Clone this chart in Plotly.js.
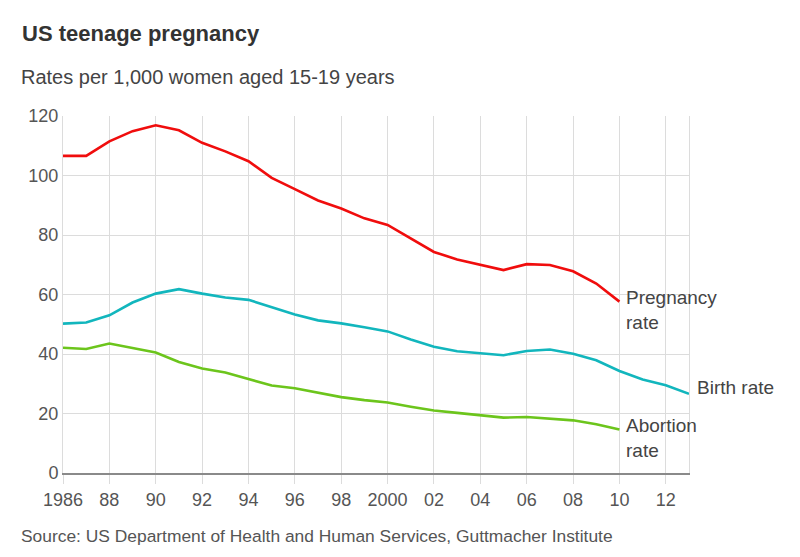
<!DOCTYPE html>
<html>
<head>
<meta charset="utf-8">
<script src="https://cdn.plot.ly/plotly-3.0.1.min.js"></script>
<style>
  html, body { margin: 0; padding: 0; background: #fff; }
  #chart { width: 800px; height: 557px; }
</style>
</head>
<body>
<div id="chart"></div>
<script>
const years = [1986,1987,1988,1989,1990,1991,1992,1993,1994,1995,1996,1997,1998,1999,2000,2001,2002,2003,2004,2005,2006,2007,2008,2009,2010,2011,2012,2013];
const pregnancyRate = [106.6,106.6,111.5,114.9,116.9,115.2,111.0,108.1,104.8,99.2,95.4,91.6,88.9,85.6,83.4,78.8,74.3,71.8,70.0,68.2,70.2,69.9,67.8,63.7,57.6];
const birthRate = [50.2,50.6,53.0,57.3,60.3,61.8,60.3,59.0,58.2,55.8,53.3,51.3,50.3,49.0,47.6,44.9,42.4,40.9,40.3,39.6,41.0,41.5,40.1,37.9,34.3,31.4,29.5,26.6];
const abortionRate = [42.1,41.7,43.5,42.0,40.5,37.3,35.1,33.8,31.6,29.4,28.5,26.9,25.5,24.5,23.7,22.3,21.0,20.2,19.4,18.6,18.8,18.2,17.7,16.4,14.6];
const tickYears = [1986,1988,1990,1992,1994,1996,1998,2000,2002,2004,2006,2008,2010,2012];
const tickLabels = ['1986','88','90','92','94','96','98','2000','02','04','06','08','10','12'];
const yTicks = [0,20,40,60,80,100,120];

const seriesNames = ['Pregnancy<br>rate','Birth rate','Abortion<br>rate'];
const seriesColors = ['#f00d0d','#12b6bd','#6cc51c'];
const seriesData = [pregnancyRate, birthRate, abortionRate];

const traces = seriesData.map((vals, i) => ({
  x: years.slice(0, vals.length),
  y: vals,
  type: 'scatter',
  mode: 'lines',
  line: { color: seriesColors[i], width: 2.6 },
  hoverinfo: 'x+y',
  showlegend: false
}));

const labelShift = [[5, -8], [6, 6], [5, -8]];
const annotations = seriesData.map((vals, i) => ({
  x: years[vals.length - 1],
  y: vals[vals.length - 1],
  xref: 'x', yref: 'y',
  text: seriesNames[i],
  showarrow: false,
  xanchor: 'left', yanchor: 'middle',
  align: 'left',
  xshift: labelShift[i][0], yshift: labelShift[i][1],
  font: { family: 'Liberation Sans, Arial, sans-serif', size: 19, color: '#444' }
}));

annotations.push({
  xref: 'paper', yref: 'paper',
  x: -0.0695, y: 1.109,
  xanchor: 'left', yanchor: 'middle',
  text: 'Rates per 1,000 women aged 15-19 years',
  showarrow: false,
  font: { family: 'Liberation Sans, Arial, sans-serif', size: 20, color: '#444' }
});
annotations.push({
  xref: 'paper', yref: 'paper',
  x: -0.0695, y: -0.1756,
  xanchor: 'left', yanchor: 'middle',
  text: 'Source: US Department of Health and Human Services, Guttmacher Institute',
  showarrow: false,
  font: { family: 'Liberation Sans, Arial, sans-serif', size: 17.4, color: '#555' }
});

const layout = {
  width: 800, height: 557,
  paper_bgcolor: '#fff', plot_bgcolor: '#fff',
  margin: { l: 63, r: 111, t: 116, b: 84 },
  title: {
    text: '<b>US teenage pregnancy</b>',
    xref: 'container', yref: 'container',
    x: 22 / 800, xanchor: 'left',
    y: 1 - 33 / 557, yanchor: 'middle',
    font: { family: 'Liberation Sans, Arial, sans-serif', size: 22, color: '#333' }
  },
  xaxis: {
    range: [1986, 2013],
    tickvals: tickYears,
    ticktext: tickLabels,
    showgrid: true, gridcolor: '#dcdcdc', gridwidth: 1,
    zeroline: false,
    showline: true, linecolor: '#8a8a8a', linewidth: 2,
    ticks: 'outside', ticklen: 9, tickcolor: '#dcdcdc', tickwidth: 1,
    tickfont: { family: 'Liberation Sans, Arial, sans-serif', size: 18, color: '#555' },
    fixedrange: true
  },
  yaxis: {
    range: [0, 120],
    tickvals: yTicks,
    showgrid: true, gridcolor: '#dcdcdc', gridwidth: 1,
    zeroline: false,
    showline: true, linecolor: '#dcdcdc', linewidth: 1, mirror: true,
    ticks: '',
    tickfont: { family: 'Liberation Sans, Arial, sans-serif', size: 18, color: '#555' },
    fixedrange: true
  },
  annotations: annotations
};

Plotly.newPlot('chart', traces, layout, { displayModeBar: false, staticPlot: true });
</script>
</body>
</html>
